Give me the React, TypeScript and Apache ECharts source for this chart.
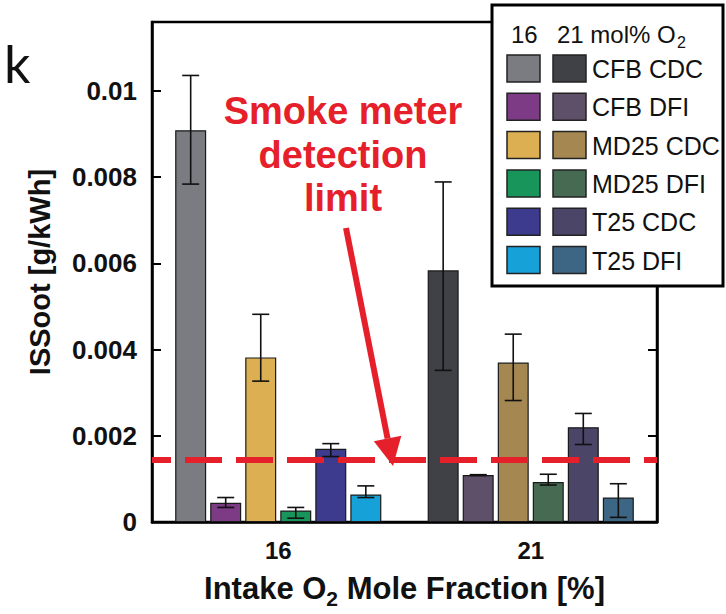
import React, { useEffect, useRef } from "react";
import * as echarts from "echarts";

const groups = ["16", "21"];
const seriesNames = ["CFB CDC", "CFB DFI", "MD25 CDC", "MD25 DFI", "T25 CDC", "T25 DFI"];
const soot16 = [0.00909, 0.00045, 0.00382, 0.00027, 0.0017, 0.00064];
const soot21 = [0.00584, 0.00109, 0.0037, 0.00093, 0.0022, 0.00057];
const errHigh16 = [0.01036, 0.00057, 0.00482, 0.00034, 0.00182, 0.00084];
const errLow16 = [0.00784, 0.00034, 0.00327, 0.00009, 0.00152, 0.00057];
const errHigh21 = [0.00789, 0.0011, 0.00436, 0.00111, 0.00252, 0.00089];
const errLow21 = [0.00352, 0.00108, 0.00282, 0.00086, 0.0018, 0.00011];
const detectionLimit = 0.00145;
const yTicks = [0, 0.002, 0.004, 0.006, 0.008, 0.01];
const annotationLines = ["Smoke meter", "detection", "limit"];

const colors16 = ["#7b7b82", "#7c3b84", "#dcb052", "#18955a", "#3d3b8d", "#16a2d8"];
const colors21 = ["#404047", "#5f5069", "#a58751", "#476a52", "#4b4568", "#3d6684"];

const RED = "#e5202a";
const BAR_W = 31;
const BAR_GAP = 0.13;
const STEP = BAR_W * (1 + BAR_GAP);
const FONT = "'Liberation Sans', Arial, sans-serif";

export default function App() {
  const ref = useRef<HTMLDivElement>(null);
  useEffect(() => {
    if (!ref.current) return;
    const chart = echarts.init(ref.current, null, { renderer: "svg" });

    const barSeries: any[] = seriesNames.map((name, i) => {
      const s: any = {
        type: "bar",
        name,
        barWidth: BAR_W,
        barGap: (BAR_GAP * 100).toFixed(0) + "%",
        barCategoryGap: "18%",
        itemStyle: { borderColor: "#1a1a1a", borderWidth: 1.2 },
        data: [
          { value: soot16[i], itemStyle: { color: colors16[i] } },
          { value: soot21[i], itemStyle: { color: colors21[i] } },
        ],
        z: i === 0 ? 4 : 2,
      };
      if (i === 0) {
        s.markLine = {
          silent: true,
          symbol: "none",
          precision: 8,
          label: { show: false },
          lineStyle: { color: RED, width: 6, type: [37, 14], dashOffset: 18, opacity: 1 },
          data: [{ yAxis: detectionLimit }],
        };
      }
      return s;
    });

    const errData: number[][] = [];
    seriesNames.forEach((_, s) => {
      errData.push([0, errLow16[s], errHigh16[s], s]);
      errData.push([1, errLow21[s], errHigh21[s], s]);
    });

    const errSeries = {
      type: "custom",
      z: 5,
      encode: { x: 0, y: [1, 2] },
      data: errData,
      renderItem: (params: any, api: any) => {
        const cat = api.value(0);
        const lo = api.value(1);
        const hi = api.value(2);
        const s = api.value(3);
        const pHi = api.coord([cat, hi]);
        const pLo = api.coord([cat, lo]);
        const x = pHi[0] + (s - 2.5) * STEP;
        const hw = 8.5;
        const st = { stroke: "#111", lineWidth: 1.6 };
        return {
          type: "group",
          children: [
            { type: "line", shape: { x1: x, y1: pHi[1], x2: x, y2: pLo[1] }, style: st },
            { type: "line", shape: { x1: x - hw, y1: pHi[1], x2: x + hw, y2: pHi[1] }, style: st },
            { type: "line", shape: { x1: x - hw, y1: pLo[1], x2: x + hw, y2: pLo[1] }, style: st },
          ],
        };
      },
    };

    // legend graphic
    const legendEls: any[] = [
      {
        type: "rect",
        shape: { x: 492, y: 5, width: 231, height: 281 },
        style: { fill: "#fff", stroke: "#000", lineWidth: 3 },
        z: 50,
      },
      {
        type: "text",
        x: 511,
        y: 34,
        style: { text: "16", font: "24px " + FONT, fill: "#111", verticalAlign: "middle" },
        z: 51,
      },
      {
        type: "text",
        x: 557,
        y: 34,
        style: { text: "21 mol% O", font: "24px " + FONT, fill: "#111", verticalAlign: "middle" },
        z: 51,
      },
      {
        type: "text",
        x: 677,
        y: 42,
        style: { text: "2", font: "16px " + FONT, fill: "#111", verticalAlign: "middle" },
        z: 51,
      },
    ];
    seriesNames.forEach((name, i) => {
      const y = 55 + i * 38.3;
      legendEls.push({
        type: "rect",
        shape: { x: 507, y, width: 33, height: 27 },
        style: { fill: colors16[i], stroke: "#222", lineWidth: 1.5 },
        z: 51,
      });
      legendEls.push({
        type: "rect",
        shape: { x: 553, y, width: 33, height: 27 },
        style: { fill: colors21[i], stroke: "#222", lineWidth: 1.5 },
        z: 51,
      });
      legendEls.push({
        type: "text",
        x: 592,
        y: y + 14,
        style: { text: name, font: "25px " + FONT, fill: "#111", verticalAlign: "middle" },
        z: 51,
      });
    });

    // annotation arrow
    const tip = [393, 466];
    const start = [346, 228];
    const dx = tip[0] - start[0];
    const dy = tip[1] - start[1];
    const len = Math.sqrt(dx * dx + dy * dy);
    const ux = dx / len, uy = dy / len;
    const headLen = 28, headHalf = 14;
    const base = [tip[0] - ux * headLen, tip[1] - uy * headLen];
    const px = -uy, py = ux;

    const annotation: any[] = [
      {
        type: "text",
        x: 4,
        y: 63,
        style: { text: "k", font: "52px Lato, sans-serif", fill: "#111", verticalAlign: "middle" },
      },
      ...annotationLines.map((t, i) => ({
        type: "text",
        x: 343,
        y: 111 + i * 43.5,
        style: {
          text: t,
          font: "bold 38px " + FONT,
          fill: RED,
          align: "center",
          verticalAlign: "middle",
        },
        z: 20,
      })),
      {
        type: "line",
        shape: { x1: start[0], y1: start[1], x2: base[0], y2: base[1] },
        style: { stroke: RED, lineWidth: 6 },
        z: 20,
      },
      {
        type: "polygon",
        shape: {
          points: [
            [tip[0], tip[1]],
            [base[0] + px * headHalf, base[1] + py * headHalf],
            [base[0] - px * headHalf, base[1] - py * headHalf],
          ],
        },
        style: { fill: RED },
        z: 20,
      },
    ];

    const yLabelFmt = (v: number) => {
      const hit = yTicks.find((t) => Math.abs(t - v) < 1e-9);
      return hit === undefined ? "" : String(hit);
    };

    chart.setOption({
      animation: false,
      backgroundColor: "#fff",
      grid: {
        left: 152,
        right: 69,
        top: 22,
        bottom: 82,
        show: true,
        borderColor: "#000",
        borderWidth: 2.5,
      },
      xAxis: {
        type: "category",
        data: groups,
        axisLine: { lineStyle: { color: "#000", width: 2.5 } },
        axisTick: { show: false },
        axisLabel: {
          color: "#111",
          fontSize: 24,
          fontWeight: "bold",
          fontFamily: FONT,
          margin: 16,
        },
        name: "Intake O{sub|2} Mole Fraction [%]",
        nameLocation: "middle",
        nameGap: 38,
        nameTextStyle: {
          color: "#111",
          fontSize: 31,
          fontWeight: "bold",
          fontFamily: FONT,
          lineHeight: 36,
          rich: {
            sub: {
              fontSize: 21,
              fontWeight: "bold",
              fontFamily: FONT,
              color: "#111",
              lineHeight: 42,
              verticalAlign: "bottom",
            },
          },
        },
      },
      yAxis: [
        {
          type: "value",
          min: 0,
          max: 0.0116,
          interval: 0.002,
          splitLine: { show: false },
          axisLine: { show: true, lineStyle: { color: "#000", width: 2.5 } },
          axisTick: { show: true, inside: true, length: 9, lineStyle: { color: "#000", width: 2 } },
          axisLabel: {
            color: "#111",
            fontSize: 26,
            fontWeight: "bold",
            fontFamily: FONT,
            margin: 15,
            formatter: yLabelFmt,
          },
          name: "ISSoot [g/kWh]",
          nameLocation: "middle",
          nameGap: 98,
          nameTextStyle: {
            color: "#111",
            fontSize: 29,
            fontWeight: "bold",
            fontFamily: FONT,
          },
        },
        {
          type: "value",
          position: "right",
          min: 0,
          max: 0.0116,
          interval: 0.002,
          splitLine: { show: false },
          axisLine: { show: true, lineStyle: { color: "#000", width: 2.5 } },
          axisTick: { show: true, inside: true, length: 9, lineStyle: { color: "#000", width: 2 } },
          axisLabel: { show: false },
        },
      ],
      series: [...barSeries, errSeries],
      graphic: [...annotation, ...legendEls],
    });

    return () => chart.dispose();
  }, []);

  return (
    <div
      ref={ref}
      style={{ position: "fixed", left: 0, top: 0, width: 726, height: 614, background: "#fff" }}
    />
  );
}
